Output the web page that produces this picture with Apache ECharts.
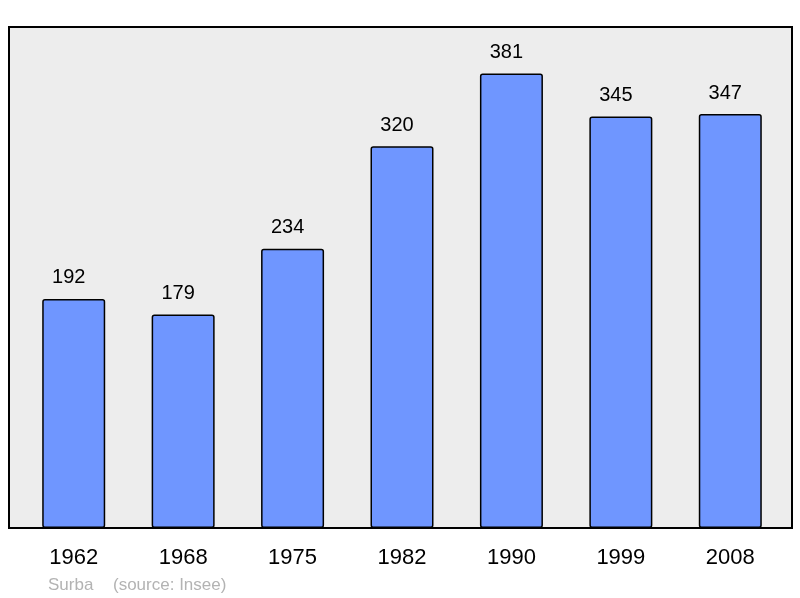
<!DOCTYPE html>
<html><head><meta charset="utf-8">
<script src="https://cdn.jsdelivr.net/npm/echarts@6/dist/echarts.min.js"></script>
<style>html,body{margin:0;padding:0;background:#fff}#c{width:800px;height:598px}</style>
</head><body><div id="c"></div>
<script>
var categories = ['1962','1968','1975','1982','1990','1999','2008'];
var population = [192,179,234,320,381,345,347];
var chart = echarts.init(document.getElementById('c'));
chart.setOption({
  animation:false,
  grid:[
    {left:9,top:27,width:783,height:501,show:true,backgroundColor:'#ededed',borderColor:'#000',borderWidth:2},
    {left:19,top:27,width:766,height:501}
  ],
  xAxis:[
    {gridIndex:0,type:'value',show:false,min:0,max:1},
    {gridIndex:1,type:'category',data:categories,boundaryGap:true,
     axisLine:{show:false},axisTick:{show:false},
     axisLabel:{color:'#000',fontSize:22,fontFamily:'Liberation Sans',margin:19}}
  ],
  yAxis:[
    {gridIndex:0,type:'value',show:false,min:0,max:1},
    {gridIndex:1,type:'value',min:0,max:420,show:false,splitLine:{show:false}}
  ],
  series:[{
    type:'bar',xAxisIndex:1,yAxisIndex:1,data:population,barWidth:63,
    itemStyle:{color:'#6f96ff',borderColor:'#000',borderWidth:1.5,borderRadius:2},
    label:{show:true,position:'top',distance:11,offset:[-5,0],color:'#000',fontSize:20,fontFamily:'Liberation Sans'}
  }],
  graphic:[
    {type:'text',left:48,top:577,style:{text:'Surba',fill:'#b3b3b3',font:'17px "Liberation Sans"'}},
    {type:'text',left:113,top:577,style:{text:'(source: Insee)',fill:'#b3b3b3',font:'17px "Liberation Sans"'}}
  ]
});
</script></body></html>
